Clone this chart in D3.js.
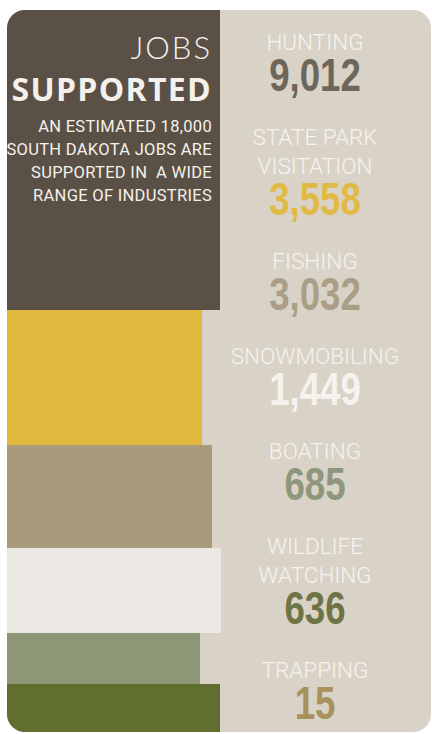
<!DOCTYPE html>
<html>
<head>
<meta charset="utf-8">
<script src="https://cdn.jsdelivr.net/npm/d3@7"></script>
<style>
  body { margin: 0; background: #fff; }
  svg { display: block; }
  text { white-space: pre; }
</style>
</head>
<body>
<svg id="chart"></svg>
<script>
// jobs supported by each outdoor activity
var industries = ["HUNTING", "STATE PARK VISITATION", "FISHING", "SNOWMOBILING", "BOATING", "WILDLIFE WATCHING", "TRAPPING"];
var labelLines = [["HUNTING"], ["STATE PARK", "VISITATION"], ["FISHING"], ["SNOWMOBILING"], ["BOATING"], ["WILDLIFE", "WATCHING"], ["TRAPPING"]];
var jobs = [9012, 3558, 3032, 1449, 685, 636, 15];
var numberColors = ["#6d665b", "#e1ba45", "#aa9f86", "#f6f3ee", "#8e977c", "#6e7446", "#a8915a"];

// left colour stack (share of the column height, reach in % of the column width)
var blockShare = [41.6, 18.7, 14.2, 11.8, 7.0, 6.7];
var blockReach = [99.5, 91, 95.8, 100, 90.2, 99.5];
var blockColors = ["#5a5045", "#e0b83e", "#a99a7c", "#ebe8e4", "#8e9678", "#606e2f"];

var titleLines = ["JOBS", "SUPPORTED"];
var noteLines = ["AN ESTIMATED 18,000", "SOUTH DAKOTA JOBS ARE", "SUPPORTED IN  A WIDE", "RANGE OF INDUSTRIES"];

var w = 432, h = 734;
var panel = {x: 7, y: 10, w: 424, h: 722, r: 18};

var svg = d3.select("#chart").attr("width", w).attr("height", h);

svg.append("clipPath").attr("id", "panelClip")
  .append("rect")
  .attr("x", panel.x).attr("y", panel.y)
  .attr("width", panel.w).attr("height", panel.h)
  .attr("rx", panel.r);

var g = svg.append("g").attr("clip-path", "url(#panelClip)");

g.append("rect")
  .attr("x", panel.x).attr("y", panel.y)
  .attr("width", panel.w).attr("height", panel.h)
  .attr("fill", "#d9d2c6");

// stacked blocks
var y = d3.scaleLinear().domain([0, d3.sum(blockShare)]).range([panel.y, panel.y + panel.h]);
var x = d3.scaleLinear().domain([0, 100]).range([panel.x, 221]);

var stackEnds = d3.cumsum(blockShare);
var blocks = blockShare.map(function (d, i) {
  return {start: stackEnds[i] - d, end: stackEnds[i], reach: blockReach[i], color: blockColors[i]};
});

g.selectAll("rect.block")
  .data(blocks)
  .join("rect")
  .attr("class", "block")
  .attr("x", x(0))
  .attr("y", function (d) { return y(d.start); })
  .attr("width", function (d) { return x(d.reach) - x(0); })
  .attr("height", function (d) { return y(d.end) - y(d.start); })
  .attr("fill", function (d) { return d.color; })
  .attr("shape-rendering", "crispEdges");

// title block
var titleRight = 212;
svg.append("text")
  .attr("x", titleRight).attr("y", 59)
  .attr("text-anchor", "end")
  .attr("font-family", "Lato, 'Open Sans', sans-serif")
  .attr("font-weight", 300)
  .attr("font-size", 31)
  .attr("letter-spacing", 2)
  .attr("fill", "#f4f1ec")
  .text(titleLines[0]);

svg.append("text")
  .attr("x", titleRight).attr("y", 101)
  .attr("text-anchor", "end")
  .attr("font-family", "'Open Sans', sans-serif")
  .attr("font-weight", 700)
  .attr("font-size", 32)
  .attr("letter-spacing", 1.3)
  .attr("fill", "#f4f1ec")
  .text(titleLines[1]);

svg.selectAll("text.note")
  .data(noteLines)
  .join("text")
  .attr("class", "note")
  .attr("x", titleRight)
  .attr("y", function (d, i) { return 132 + i * 23; })
  .attr("text-anchor", "end")
  .attr("font-family", "Roboto, sans-serif")
  .attr("font-weight", 400)
  .attr("font-size", 16.5)
  .attr("letter-spacing", 0.3)
  .attr("fill", "#f4f1ec")
  .text(function (d) { return d; });

// right column: labels and numbers, flowing down
var colX = 315;
var lineGap = 29, numGap = 41, entryGap = 54;
var fmt = d3.format(",");

var cursor = 50;
var entries = jobs.map(function (v, i) {
  var lines = labelLines[i].map(function (t, k) { return {text: t, y: cursor + k * lineGap}; });
  var numY = lines[lines.length - 1].y + numGap;
  cursor = numY + entryGap;
  return {name: industries[i], lines: lines, value: v, numY: numY, color: numberColors[i]};
});

var entry = svg.selectAll("g.entry")
  .data(entries)
  .join("g")
  .attr("class", "entry");

entry.selectAll("text.label")
  .data(function (d) { return d.lines; })
  .join("text")
  .attr("class", "label")
  .attr("x", colX)
  .attr("y", function (d) { return d.y; })
  .attr("text-anchor", "middle")
  .attr("font-family", "Roboto, sans-serif")
  .attr("font-weight", 300)
  .attr("font-size", 22.5)
  .attr("fill", "#f6f3ee")
  .text(function (d) { return d.text; });

// condensed numbers: squeeze a bold face horizontally
entry.append("text")
  .attr("class", "num")
  .attr("transform", function (d) { return "translate(" + colX + "," + d.numY + ") scale(0.78,1)"; })
  .attr("text-anchor", "middle")
  .attr("font-family", "'Liberation Sans Narrow', 'Arial Narrow', sans-serif")
  .attr("font-weight", 700)
  .attr("font-size", 47)
  .attr("fill", function (d) { return d.color; })
  .text(function (d) { return fmt(d.value); });
</script>
</body>
</html>
